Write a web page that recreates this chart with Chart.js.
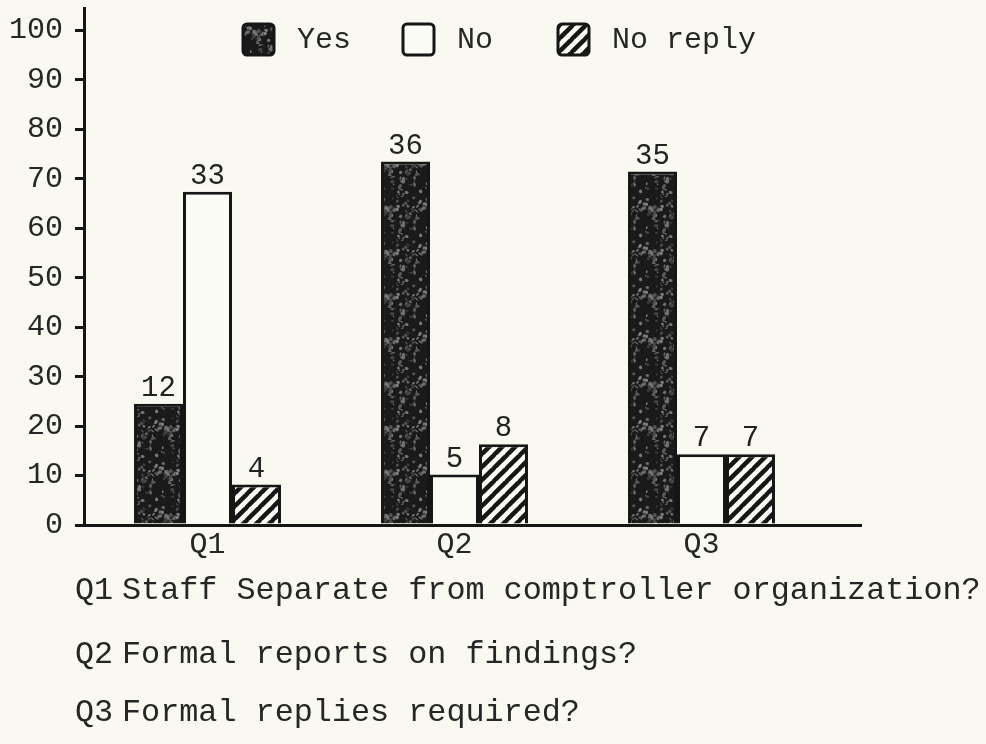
<!DOCTYPE html>
<html>
<head>
<meta charset="utf-8">
<title>Comptroller staff survey</title>
<script src="https://cdn.jsdelivr.net/npm/chart.js"></script>
<style>
  html, body { margin: 0; padding: 0; background: #f9f9f1; }
  #wrap { position: relative; width: 986px; height: 744px; overflow: hidden; }
  #chartCanvas { position: absolute; left: 0; top: 0; }
  .note { position: absolute; font-family: "Liberation Mono", monospace; font-size: 31.8px;
          line-height: 1; color: #262626; white-space: pre; }
</style>
</head>
<body>
<div id="wrap">
  <canvas id="chartCanvas" width="986" height="744"></canvas>
</div>
<script>
// answers per question (number of replies)
const categories = ['Q1', 'Q2', 'Q3'];
const seriesNames = ['Yes', 'No', 'No reply'];
const yesCounts = [12, 36, 35];
const noCounts = [33, 5, 7];
const noReplyCounts = [4, 8, 7];
const yTickStep = 10;
const yTickMax = 100;
const questions = [
  'Staff Separate from comptroller organization?',
  'Formal reports on findings?',
  'Formal replies required?'
];

const ink = '#161616';
const font = '"Liberation Mono", monospace';

// bar heights are the share of all replies to each question, in percent
const totals = categories.map((_, i) => yesCounts[i] + noCounts[i] + noReplyCounts[i]);
const toPercent = counts => counts.map((c, i) => c / totals[i] * 100);

// dark speckled fill for "Yes"
function speckleFill() {
  const tile = document.createElement('canvas');
  tile.width = 44; tile.height = 44;
  const t = tile.getContext('2d');
  t.fillStyle = '#1a1a1a';
  t.fillRect(0, 0, 44, 44);
  let seed = 7;
  const next = () => (seed = (seed * 16807) % 2147483647) / 2147483647;
  for (let k = 0; k < 80; k++) {
    const g = 60 + Math.floor(next() * 70);
    t.fillStyle = `rgb(${g},${g},${g})`;
    t.beginPath();
    t.ellipse(next() * 44, next() * 44, 0.6 + next() * 2, 0.5 + next() * 1.5, next() * 3, 0, Math.PI * 2);
    t.fill();
  }
  return t.createPattern(tile, 'repeat');
}

// diagonal hatch for "No reply"
function hatchFill() {
  const s = 13;
  const tile = document.createElement('canvas');
  tile.width = s; tile.height = s;
  const t = tile.getContext('2d');
  t.fillStyle = '#fbfbf6';
  t.fillRect(0, 0, s, s);
  t.strokeStyle = ink;
  t.lineWidth = 4.5;
  for (const k of [-s, 0, s]) {
    t.beginPath();
    t.moveTo(k - 1, s + 1);
    t.lineTo(k + s + 1, -1);
    t.stroke();
  }
  return t.createPattern(tile, 'repeat');
}

const fills = [speckleFill(), '#fbfbf6', hatchFill()];
const countSets = [yesCounts, noCounts, noReplyCounts];

const datasets = seriesNames.map((name, i) => ({
  label: name,
  data: toPercent(countSets[i]),
  counts: countSets[i],
  backgroundColor: fills[i],
  borderColor: ink,
  borderWidth: 3,
  categoryPercentage: 0.595,
  barPercentage: 1.0
}));

// legend swatch left edges, drawn across the top of the plot
const legendX = [243, 403, 558];

const decorations = {
  id: 'decorations',
  afterDatasetsDraw(chart) {
    const ctx = chart.ctx;
    ctx.save();
    ctx.font = '29px ' + font;
    ctx.fillStyle = '#222';
    ctx.textAlign = 'center';
    ctx.textBaseline = 'alphabetic';
    chart.data.datasets.forEach((ds, i) => {
      chart.getDatasetMeta(i).data.forEach((bar, j) => {
        ctx.fillText(String(ds.counts[j]), bar.x, bar.y - 8);
      });
    });
    ctx.restore();
  },
  afterDraw(chart) {
    const ctx = chart.ctx;
    const area = chart.chartArea;
    ctx.save();
    // baseline runs on past the last group
    ctx.strokeStyle = ink;
    ctx.lineWidth = 3;
    ctx.beginPath();
    ctx.moveTo(area.right - 2, Math.round(area.bottom - 1.5) + 1.5);
    ctx.lineTo(862, Math.round(area.bottom - 1.5) + 1.5);
    ctx.stroke();

    // legend
    const size = 31, top = 24;
    chart.data.datasets.forEach((ds, i) => {
      const x = legendX[i];
      ctx.beginPath();
      ctx.roundRect(x, top, size, size, 4);
      ctx.fillStyle = ds.backgroundColor;
      ctx.fill();
      ctx.lineWidth = 3;
      ctx.strokeStyle = ds.borderColor;
      ctx.stroke();
      ctx.font = '30px ' + font;
      ctx.fillStyle = '#262626';
      ctx.textAlign = 'left';
      ctx.textBaseline = 'middle';
      ctx.fillText(ds.label, x + size + 23, top + size / 2 + 1);
    });
    ctx.restore();
  }
};

new Chart(document.getElementById('chartCanvas'), {
  type: 'bar',
  data: { labels: categories, datasets: datasets },
  options: {
    responsive: false,
    animation: false,
    layout: { padding: { top: 8, right: 161, bottom: 174, left: 0 } },
    plugins: {
      legend: { display: false },
      tooltip: { enabled: false }
    },
    scales: {
      x: {
        offset: true,
        grid: { display: false, drawTicks: false },
        border: { display: true, width: 3, color: ink },
        ticks: { font: { family: font, size: 30 }, color: '#262626', padding: 2 },
        afterFit: s => { s.height = 45; s.paddingLeft = 0; s.paddingRight = 0; }
      },
      y: {
        min: 0,
        max: 104.5,
        grid: { drawOnChartArea: false, drawTicks: true, tickLength: 9, lineWidth: 3, color: ink },
        border: { display: true, width: 3, color: ink },
        ticks: {
          stepSize: yTickStep,
          includeBounds: false,
          padding: 12,
          font: { family: font, size: 30 },
          color: '#262626',
          callback: v => (v <= yTickMax ? v : null)
        },
        afterFit: s => { s.width = 84; s.paddingTop = 0; s.paddingBottom = 0; }
      }
    }
  },
  plugins: [decorations]
});

// question key under the chart
const wrap = document.getElementById('wrap');
const noteTops = [576, 640, 698];
questions.forEach((q, i) => {
  const tag = document.createElement('div');
  tag.className = 'note';
  tag.style.left = '75px';
  tag.style.top = noteTops[i] + 'px';
  tag.textContent = categories[i];
  wrap.appendChild(tag);
  const text = document.createElement('div');
  text.className = 'note';
  text.style.left = '122px';
  text.style.top = noteTops[i] + 'px';
  text.textContent = q;
  wrap.appendChild(text);
});
</script>
</body>
</html>
